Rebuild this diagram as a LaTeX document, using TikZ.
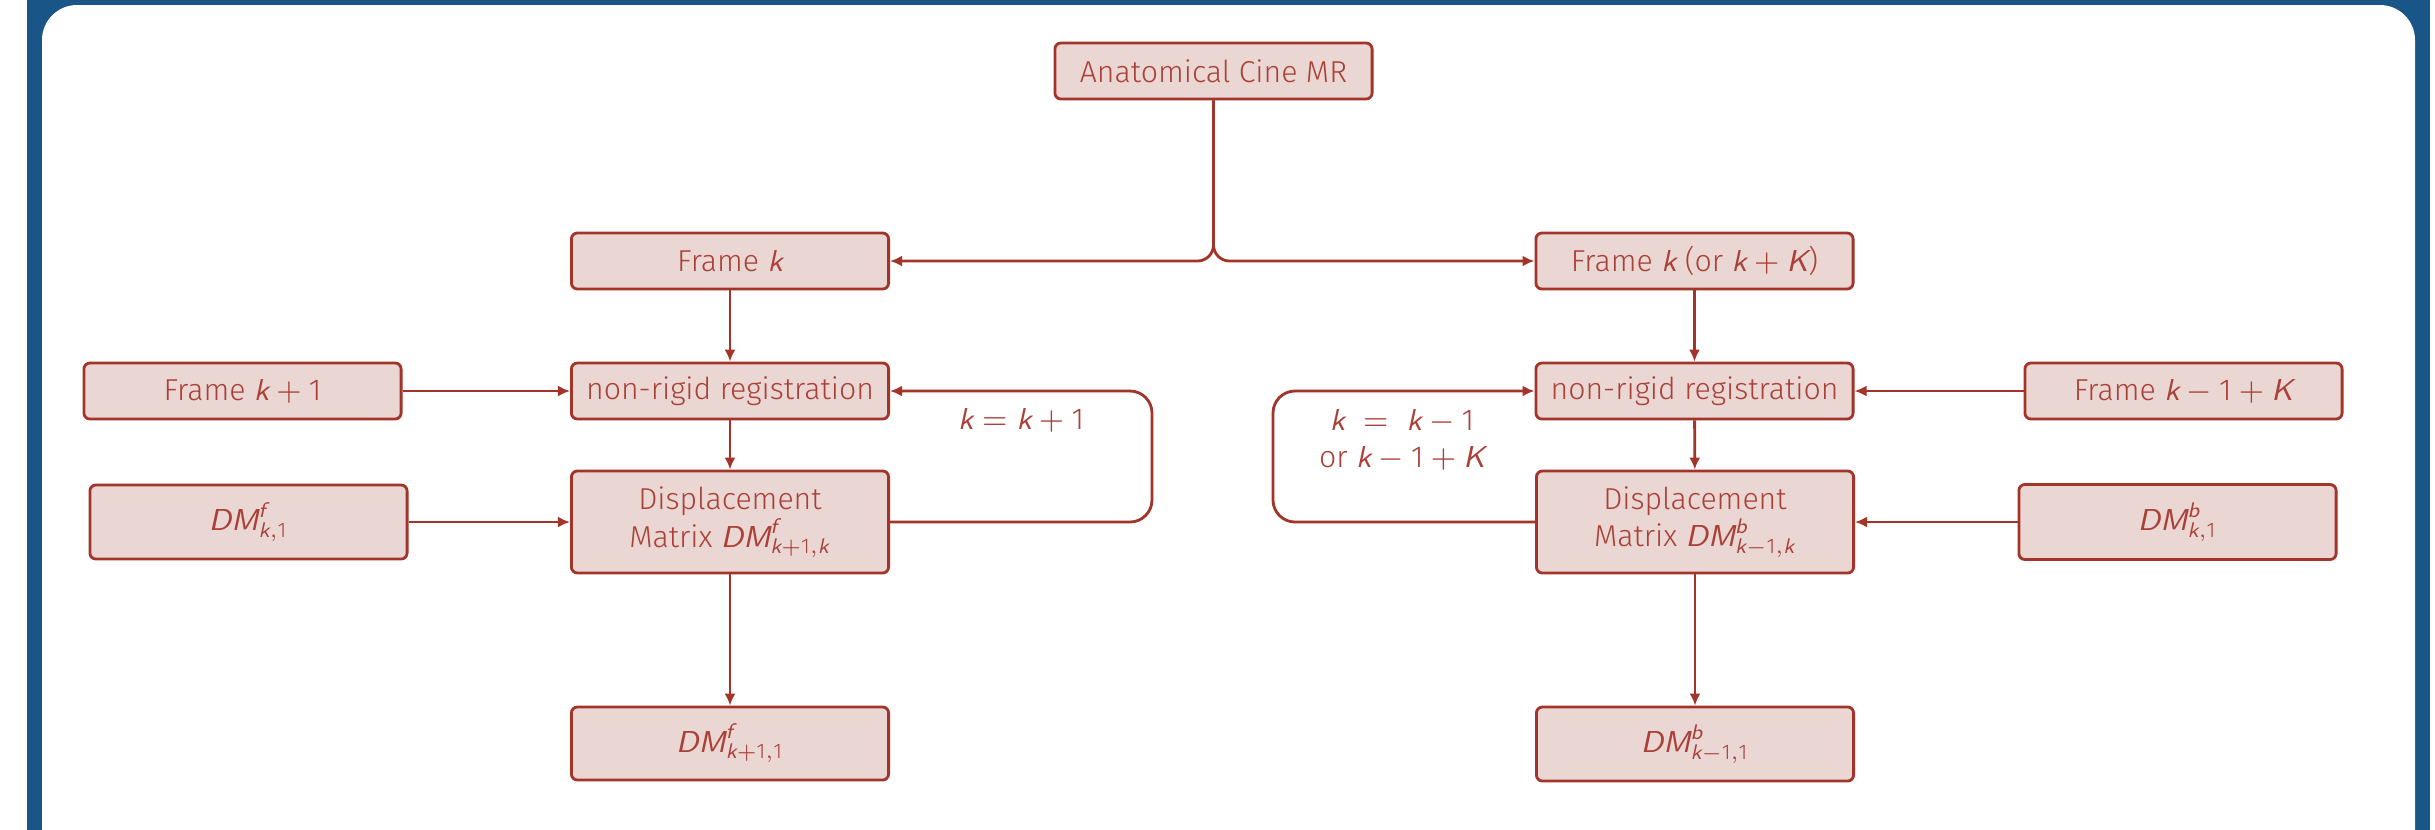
\documentclass[tikz,border=0pt]{standalone}
\usepackage{fontspec}
\usepackage{amsmath}
\setmainfont{Fira Sans Light}
\usetikzlibrary{arrows.meta}

\definecolor{frameblue}{RGB}{25,85,135}
\definecolor{flowred}{RGB}{162,52,42}
\definecolor{flowtext}{RGB}{170,64,54}
\definecolor{flowfill}{RGB}{234,215,212}

% sans-serif italic math letters
\newcommand{\mv}[1]{\text{\sffamily\itshape #1}}
\newcommand{\one}{\text{1}}

\tikzset{
  x=0.01cm, y=-0.01cm,
  box/.style={draw=flowred, fill=flowfill, line width=0.8pt, rounded corners=0.6mm,
    minimum width=3.17cm, minimum height=0.56cm, inner sep=0pt, align=center,
    text=flowtext, font=\fontsize{8.6}{9.6}\selectfont},
  flow/.style={draw=flowred, line width=0.8pt, -{Latex[length=1.2mm,width=1.1mm]}},
  looptext/.style={text=flowtext, align=center, font=\fontsize{8.6}{10.5}\selectfont, inner sep=0pt}
}

\begin{document}
\begin{tikzpicture}
\useasboundingbox (0,0) rectangle (2435,829);

% block frame
\begin{scope}
  \clip (0,0) rectangle (2435,829);
  \fill[frameblue] (27,-60) rectangle (2430,900);
  \fill[white, rounded corners=0.35cm] (42,5) rectangle (2415,950);
\end{scope}

% top source
\node[box] (cine) at (1213.5,71) {Anatomical Cine MR};

% forward branch
\node[box] (fk)   at (730,261)   {Frame $\mv{k}$};
\node[box] (fk1)  at (242.5,391) {Frame $\mv{k} + \one$};
\node[box] (nrl)  at (730,391)   {non-rigid registration};
\node[box, minimum height=0.74cm] (dmf1) at (248.5,522) {$\mv{DM}^{\mv{f}}_{\mv{k}{,}\one}$};
\node[box, minimum height=1.02cm] (displ) at (730,522)
  {Displacement\\[0pt]Matrix $\mv{DM}^{\mv{f}}_{\mv{k}+\one{,}\mv{k}}$};
\node[box, minimum height=0.73cm] (dmfo) at (730,743.5) {$\mv{DM}^{\mv{f}}_{\mv{k}+\one{,}\one}$};

% backward branch
\node[box] (fko)  at (1694.5,261) {Frame $\mv{k}$ (or $\mv{k} + \mv{K}$)};
\node[box] (nrr)  at (1694.5,391) {non-rigid registration};
\node[box] (fkK)  at (2183.5,391) {Frame $\mv{k} - \one + \mv{K}$};
\node[box, minimum height=1.02cm] (dispr) at (1695,522)
  {Displacement\\[0pt]Matrix $\mv{DM}^{\mv{b}}_{\mv{k}-\one{,}\mv{k}}$};
\node[box, minimum height=0.75cm] (dmb1) at (2177.5,522) {$\mv{DM}^{\mv{b}}_{\mv{k}{,}\one}$};
\node[box, minimum height=0.74cm] (dmbo) at (1695,744) {$\mv{DM}^{\mv{b}}_{\mv{k}-\one{,}\one}$};

% loop labels
\node[looptext] (incl) at (1021,420) {$\mv{k} = \mv{k} + \one$};
\node[looptext] (incr) at (1402,440) {$\mv{k} \;=\; \mv{k} - \one$\\or $\mv{k} - \one + \mv{K}$};

% split from the source
\draw[flow, rounded corners=0.16cm] (cine.south) |- (fk.east);
\draw[flow, rounded corners=0.16cm] (cine.south) |- (fko.west);

% forward connectors
\draw[flow] (fk) -- (nrl);
\draw[flow] (fk1) -- (nrl);
\draw[flow] (nrl) -- (displ);
\draw[flow] (dmf1) -- (displ);
\draw[flow] (displ) -- (dmfo);
\coordinate (loopl) at (1152,0);
\draw[flow, rounded corners=0.22cm] (displ.east) -- (displ.east -| loopl) -- (nrl.east -| loopl) -- (nrl.east);

% backward connectors
\draw[flow] (fko) -- (nrr);
\draw[flow] (fkK) -- (nrr);
\draw[flow] (nrr) -- (dispr);
\draw[flow] (dmb1) -- (dispr);
\draw[flow] (dispr) -- (dmbo);
\coordinate (loopr) at (1273,0);
\draw[flow, rounded corners=0.22cm] (dispr.west) -- (dispr.west -| loopr) -- (nrr.west -| loopr) -- (nrr.west);
\end{tikzpicture}
\end{document}
